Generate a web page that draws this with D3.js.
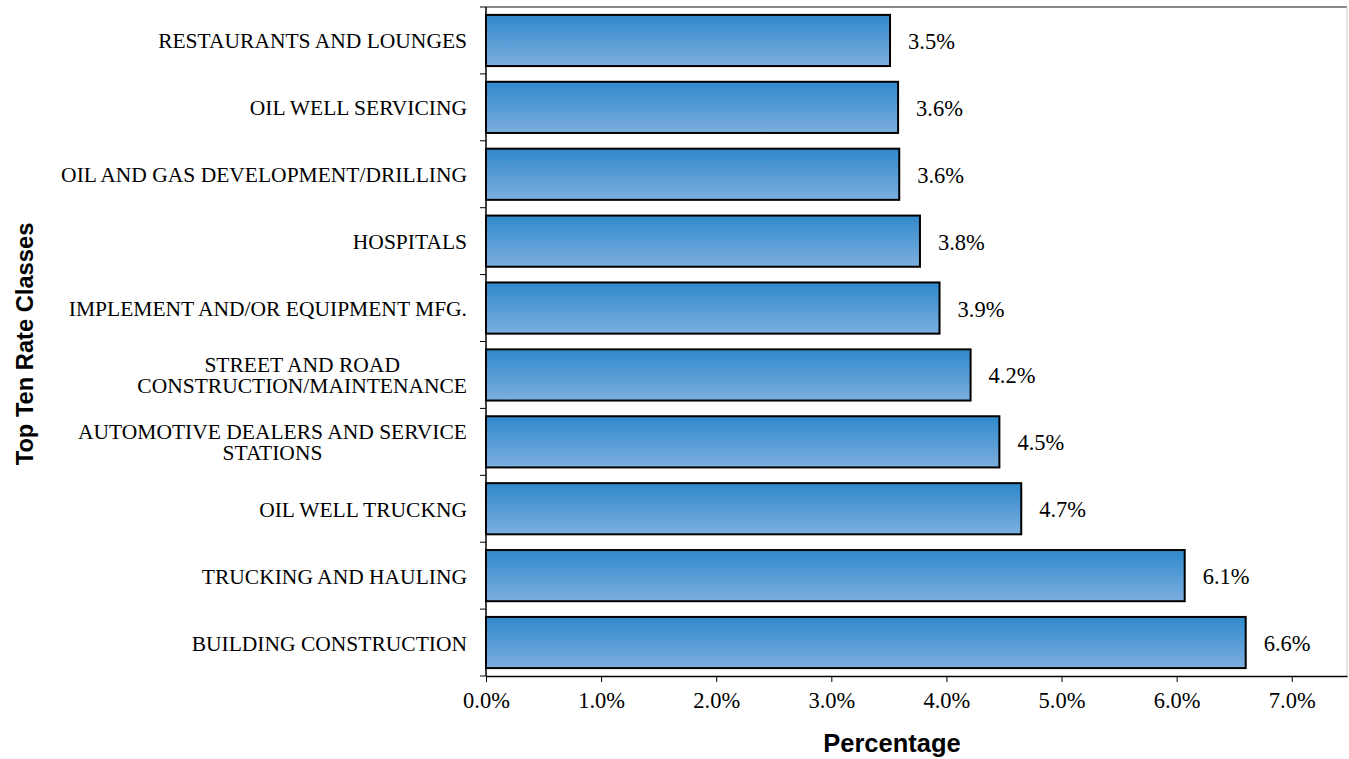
<!DOCTYPE html>
<html><head><meta charset="utf-8">
<script src="https://cdn.jsdelivr.net/npm/d3@7"></script>
<style>body{margin:0;background:#fff}svg{display:block}</style>
</head><body>
<svg id="c" width="1349" height="759"></svg>
<script>
const categories = ["RESTAURANTS AND LOUNGES","OIL WELL SERVICING","OIL AND GAS DEVELOPMENT/DRILLING","HOSPITALS","IMPLEMENT AND/OR EQUIPMENT MFG.","STREET AND ROAD|CONSTRUCTION/MAINTENANCE","AUTOMOTIVE DEALERS AND SERVICE|STATIONS","OIL WELL TRUCKNG","TRUCKING AND HAULING","BUILDING CONSTRUCTION"];
const values = [3.51, 3.58, 3.59, 3.77, 3.94, 4.21, 4.46, 4.65, 6.07, 6.60];
const xTicks = [0,1,2,3,4,5,6,7];

const svg = d3.select("#c");
const L = 486, R = 1347, T = 7, B = 676;
const serif = "Liberation Serif, Times New Roman, serif";
const sans = "Liberation Sans, Arial, sans-serif";
const x = d3.scaleLinear().domain([0, 7.48]).range([L, R]);
const y = d3.scaleBand().domain(categories).range([T, B]).paddingInner(0.235).paddingOuter(0.118);

const defs = svg.append("defs");
const g = defs.append("linearGradient").attr("id","bg").attr("x1",0).attr("y1",0).attr("x2",0).attr("y2",1);
g.append("stop").attr("offset","0%").attr("stop-color","#2F89CB");
g.append("stop").attr("offset","100%").attr("stop-color","#7DAEDF");

// plot border top/right
svg.append("line").attr("x1",L).attr("x2",R).attr("y1",T).attr("y2",T).attr("stroke","#888").attr("stroke-width",2);
svg.append("line").attr("x1",R).attr("x2",R).attr("y1",T).attr("y2",B).attr("stroke","#ccc").attr("stroke-width",1);

svg.selectAll("rect.bar").data(categories).enter().append("rect")
  .attr("x", x(0)).attr("y", d=>y(d)).attr("width",(d,i)=>x(values[i])-x(0)).attr("height",y.bandwidth())
  .attr("fill","url(#bg)").attr("stroke","#000").attr("stroke-width",2);

// y axis
const yg = svg.append("g").attr("transform",`translate(${L},0)`);
yg.append("line").attr("x1",0).attr("x2",0).attr("y1",T).attr("y2",B).attr("stroke","#000").attr("stroke-width",1.5);
const bounds = d3.range(categories.length+1).map(i=>T + i*(B-T)/categories.length);
yg.selectAll("line.tk").data(bounds).enter().append("line").attr("x1",-6).attr("x2",0).attr("y1",d=>d).attr("y2",d=>d).attr("stroke","#000");

// category labels (multi-line blocks centered, right aligned overall)
svg.selectAll("g.cat").data(categories).enter().append("text")
  .attr("font-family",serif).attr("font-size",21.5).attr("fill","#000")
  .each(function(d){
    const lines = d.split("|");
    const cy = y(d)+y.bandwidth()/2;
    const t = d3.select(this);
    if(lines.length===1){
      t.attr("text-anchor","end").append("tspan").attr("x",467).attr("y",cy+8).text(d);
    } else {
      const tmp = lines.map(ln=>{const s=t.append("tspan").text(ln);const w=s.node().getComputedTextLength();s.remove();return w;});
      const maxW = d3.max(tmp);
      const cx = 467 - maxW/2;
      t.attr("text-anchor","middle");
      lines.forEach((ln,k)=>{
        t.append("tspan").attr("x",cx).attr("y", cy + 7.5 + (k-0.5)*21.5).text(ln);
      });
    }
  });

// x axis
const xa = d3.axisBottom(x).tickValues(xTicks).tickFormat(d=>d.toFixed(1)+"%").tickSize(6).tickSizeOuter(0);
const xg = svg.append("g").attr("transform",`translate(0,${B})`).call(xa);
xg.select(".domain").attr("stroke","#000").attr("stroke-width",1.5);
xg.selectAll(".tick line").attr("stroke","#000");
xg.selectAll(".tick text").attr("font-family",serif).attr("font-size",22.5).attr("fill","#000").attr("dy","0").attr("y",32);

// value labels
svg.selectAll("text.val").data(categories).enter().append("text")
  .attr("x",(d,i)=>x(values[i])+18).attr("y",d=>y(d)+y.bandwidth()/2+8.5)
  .attr("font-family",serif).attr("font-size",22.5).attr("fill","#000")
  .text((d,i)=>values[i].toFixed(1)+"%");

// titles
svg.append("text").attr("x",892).attr("y",752).attr("text-anchor","middle")
  .attr("font-family",sans).attr("font-weight","bold").attr("font-size",25.5).text("Percentage");
svg.append("text").attr("transform","translate(33,344) rotate(-90)").attr("text-anchor","middle")
  .attr("font-family",sans).attr("font-weight","bold").attr("font-size",23.7).text("Top Ten Rate Classes");
</script>
</body></html>
